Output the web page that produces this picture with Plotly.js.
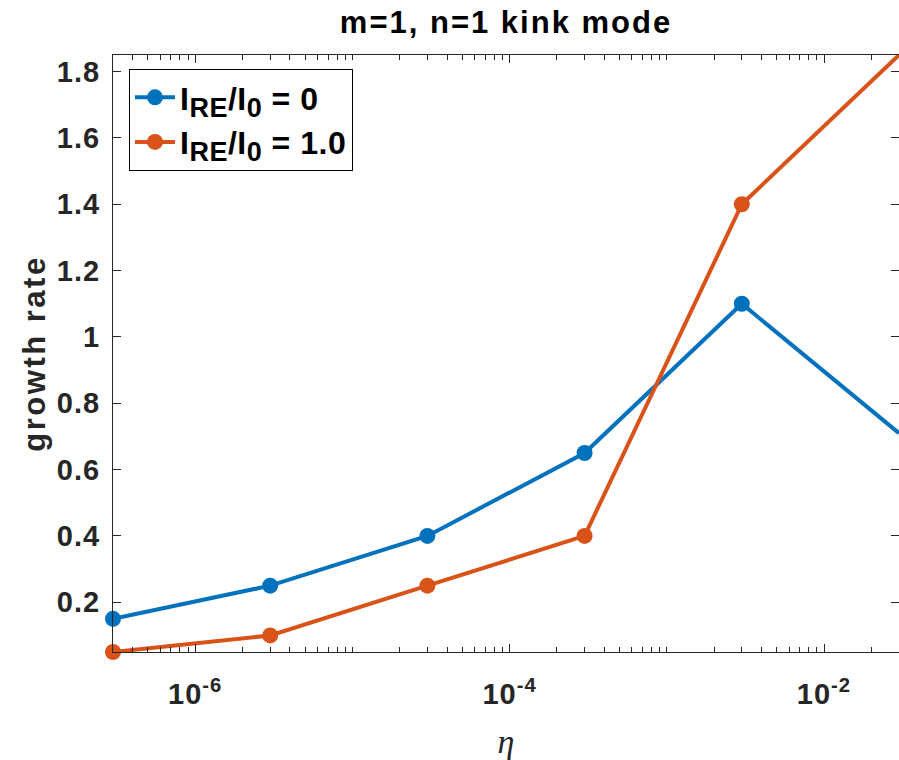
<!DOCTYPE html>
<html>
<head>
<meta charset="utf-8">
<script src="https://cdn.plot.ly/plotly-3.0.1.min.js"></script>
<style>
  html, body { margin: 0; padding: 0; background: #fff; overflow: hidden; }
  #chart { width: 899px; height: 760px; }
  .gtitle { letter-spacing: 2px; }
  .ytitle { letter-spacing: 2.5px; }
  .xtick text, .ytick text { letter-spacing: 1px; }
  .legendtext { letter-spacing: 0.5px; }
</style>
</head>
<body>
<div id="chart"></div>
<script>
// ---- data ----
const eta = [3e-7, 3e-6, 3e-5, 3e-4, 3e-3, 3e-2];
const growthRE0 = [0.15, 0.25, 0.40, 0.65, 1.10, 0.71];
const growthRE1 = [0.05, 0.10, 0.25, 0.40, 1.40, 1.85];
const seriesNames = [
  "I<sub><span style='font-size:27px'>RE</span></sub>/I<sub><span style='font-size:27px'>0</span></sub> = 0",
  "I<sub><span style='font-size:27px'>RE</span></sub>/I<sub><span style='font-size:27px'>0</span></sub> = 1.0"
];
const xTickVals = [1e-6, 1e-4, 1e-2];
const xTickText = ["10<sup>-6</sup>", "10<sup>-4</sup>", "10<sup>-2</sup>"];
const yTickVals = [0.2, 0.4, 0.6, 0.8, 1.0, 1.2, 1.4, 1.6, 1.8];
const yTickText = ["0.2", "0.4", "0.6", "0.8", "1", "1.2", "1.4", "1.6", "1.8"];
const chartTitle = "m=1, n=1 kink mode";
const xTitle = "η";
const yTitle = "growth rate";

// minor log ticks (all decade subdivisions that are not labelled majors)
const minorVals = [];
for (let d = -7; d <= -1; d++) {
  for (let m = 1; m <= 9; m++) {
    const v = m * Math.pow(10, d);
    if (!xTickVals.some(t => Math.abs(t - v) / v < 1e-9)) minorVals.push(v);
  }
}

const axisColor = '#262626';
const blue = '#0072BD';
const orange = '#D95319';

const traces = [
  {
    x: eta, y: growthRE0, name: seriesNames[0], type: 'scatter', mode: 'lines+markers',
    line: { color: blue, width: 4 },
    marker: { color: blue, size: 16 },
    cliponaxis: false
  },
  {
    x: eta, y: growthRE1, name: seriesNames[1], type: 'scatter', mode: 'lines+markers',
    line: { color: orange, width: 4 },
    marker: { color: orange, size: 16 },
    cliponaxis: false
  }
];

const tickFont = { family: 'Liberation Sans, Arial, sans-serif', size: 29, color: axisColor, weight: 'bold' };

const layout = {
  width: 899, height: 760,
  margin: { l: 113, r: 0, t: 55, b: 108 },
  paper_bgcolor: '#fff', plot_bgcolor: '#fff',
  showlegend: true,
  title: {
    text: '<b>' + chartTitle + '</b>',
    font: { family: 'Liberation Sans, Arial, sans-serif', size: 31, color: '#000' },
    x: 0.5, xref: 'paper', xanchor: 'center',
    y: 1 - 22 / 760, yref: 'container', yanchor: 'middle'
  },
  xaxis: {
    type: 'log',
    range: [Math.log10(eta[0]), Math.log10(eta[eta.length - 1])],
    tickmode: 'array', tickvals: xTickVals, ticktext: xTickText,
    ticks: 'inside', ticklen: 8, tickwidth: 1, tickcolor: axisColor,
    minor: { tickmode: 'array', tickvals: minorVals, ticks: 'inside', ticklen: 5, tickwidth: 1, tickcolor: axisColor, showgrid: false },
    showline: true, linecolor: axisColor, linewidth: 1, mirror: 'allticks',
    showgrid: false, zeroline: false,
    tickfont: tickFont, ticklabelstandoff: 16,
    title: {
      text: xTitle, standoff: 22,
      font: { family: 'Liberation Serif, Times New Roman, serif', size: 34, color: axisColor, style: 'italic' }
    }
  },
  yaxis: {
    range: [0.05, 1.85],
    tickmode: 'array', tickvals: yTickVals, ticktext: yTickText,
    ticks: 'inside', ticklen: 8, tickwidth: 1, tickcolor: axisColor,
    showline: true, linecolor: axisColor, linewidth: 1, mirror: 'allticks',
    showgrid: false, zeroline: false,
    tickfont: tickFont, ticklabelstandoff: 6,
    title: {
      text: '<b>' + yTitle + '</b>', standoff: 2,
      font: { family: 'Liberation Sans, Arial, sans-serif', size: 31, color: axisColor }
    }
  },
  legend: {
    x: (129 - 113) / 786, y: (652 - 69) / 597, xanchor: 'left', yanchor: 'top',
    bgcolor: '#fff', bordercolor: '#000', borderwidth: 1,
    font: { family: 'Liberation Sans, Arial, sans-serif', size: 32, color: '#000', weight: 'bold' },
    itemwidth: 40, tracegroupgap: 0
  }
};

Plotly.newPlot('chart', traces, layout, { displayModeBar: false, staticPlot: true });
</script>
</body>
</html>
